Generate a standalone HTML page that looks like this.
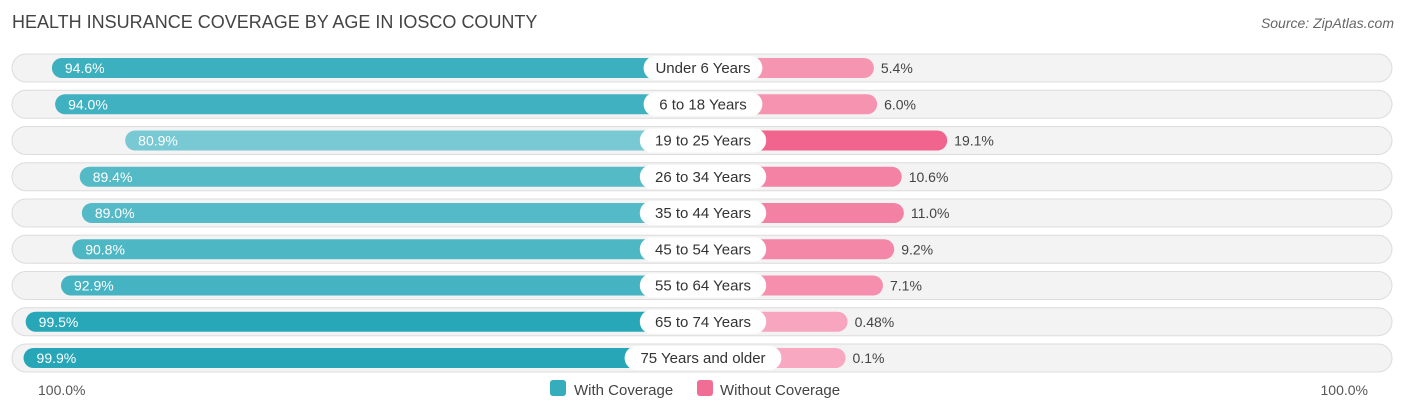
<!DOCTYPE html>
<html><head><meta charset="utf-8"><style>
body{margin:0;width:1406px;height:414px;background:#fff;font-family:"Liberation Sans",sans-serif;overflow:hidden}
</style></head><body>
<svg width="1406" height="414" xmlns="http://www.w3.org/2000/svg">
<text x="12" y="28" font-size="18" fill="#444">HEALTH INSURANCE COVERAGE BY AGE IN IOSCO COUNTY</text>
<text x="1394" y="28" font-size="14" fill="#666" font-style="italic" text-anchor="end">Source: ZipAtlas.com</text>
<g id="rows"></g>
<text x="38" y="395" font-size="14" fill="#555">100.0%</text>
<text x="1368" y="395" font-size="14" fill="#555" text-anchor="end">100.0%</text>
<rect x="550" y="380" width="16" height="16" rx="3" fill="#36adbd"/>
<text x="574" y="395" font-size="15" fill="#444">With Coverage</text>
<rect x="697" y="380" width="16" height="16" rx="3" fill="#f06d96"/>
<text x="720" y="395" font-size="15" fill="#444">Without Coverage</text>
</svg>
<script>
const categories=["Under 6 Years","6 to 18 Years","19 to 25 Years","26 to 34 Years","35 to 44 Years","45 to 54 Years","55 to 64 Years","65 to 74 Years","75 Years and older"];
const withCov=[94.6,94.0,80.9,89.4,89.0,90.8,92.9,99.5,99.9];
const withoutCov=[5.4,6.0,19.1,10.6,11.0,9.2,7.1,0.48,0.1];
const withLabels=["94.6%","94.0%","80.9%","89.4%","89.0%","90.8%","92.9%","99.5%","99.9%"];
const withoutLabels=["5.4%","6.0%","19.1%","10.6%","11.0%","9.2%","7.1%","0.48%","0.1%"];
const NS="http://www.w3.org/2000/svg";
const g=document.getElementById('rows');
const CX=705, scale=5.35, blueZero=558, pinkZero=845;
const xBlue=v=>blueZero-v*scale, xPink=v=>pinkZero+v*scale;
const yRow=i=>68+i*36.25;
function mix(a,b,t){return 'rgb('+a.map((c,k)=>Math.round(c+(b[k]-c)*t)).join(',')+')';}
function mk(tag,attrs){const e=document.createElementNS(NS,tag);for(const k in attrs)e.setAttribute(k,attrs[k]);g.appendChild(e);return e;}
categories.forEach((c,i)=>{
  const y=yRow(i);
  const bg=mk('rect',{x:12,y:y-14,width:1380,height:28,rx:14,fill:'#f3f3f3',stroke:'#dcdcdc'});
  
  
  const tb=Math.max(0,Math.min(1,(withCov[i]-80)/20));
  const bx=xBlue(withCov[i]);
  const b=mk('rect',{x:bx,y:y-10,width:CX-bx,height:20,rx:10,fill:mix([124,203,212],[38,166,183],tb)});
  
  
  const tp=Math.max(0,Math.min(1,withoutCov[i]/19));
  const px=xPink(withoutCov[i]);
  const p=mk('rect',{x:CX,y:y-10,width:px-CX,height:20,rx:10,fill:mix([248,168,192],[240,100,142],tp)});
  
  
  const wt=mk('text',{x:bx+13,y:y+5,'font-size':14,fill:'#fff'});
  wt.textContent=withLabels[i];
  
  
  const pt=mk('text',{x:px+7,y:y+5,'font-size':14,fill:'#444'});
  pt.textContent=withoutLabels[i];
  
  
  const w=c.length*7.6+20;
  const lb=mk('rect',{x:CX-2-w/2,y:y-12,width:w,height:24,rx:12,fill:'#fff'});
  
  
  const lt=mk('text',{x:CX-2,y:y+5,'font-size':15,fill:'#333','text-anchor':'middle'});
  lt.textContent=c;
  
  
});
</script>
</body></html>
